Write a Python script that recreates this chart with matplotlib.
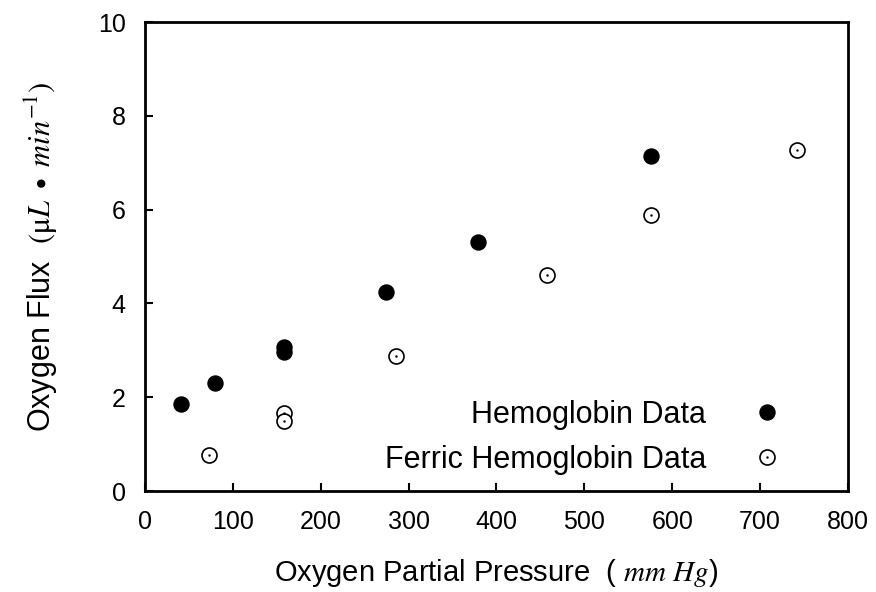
import numpy as np
import matplotlib
matplotlib.use("Agg")
import matplotlib.pyplot as plt
from matplotlib.lines import Line2D

# data
hb_x = [41, 80, 158, 158, 274, 379, 576]
hb_y = [1.85, 2.30, 3.08, 2.97, 4.25, 5.32, 7.15]
fe_x = [73, 158, 158, 286, 457, 576, 742]
fe_y = [0.77, 1.66, 1.49, 2.88, 4.60, 5.88, 7.28]

x_ticks = [0, 100, 200, 300, 400, 500, 600, 700, 800]
y_ticks = [0, 2, 4, 6, 8, 10]

plt.rcParams["font.family"] = ["Liberation Sans", "DejaVu Sans"]
plt.rcParams["mathtext.fontset"] = "stix"

fig = plt.figure(figsize=(8.76, 5.92), dpi=100)
ax = fig.add_axes([0.1655, 0.1706, 0.8025, 0.7922])

ms = 10.8
ax.plot(hb_x, hb_y, "o", ms=ms, color="black", mec="black", zorder=3)
ax.plot(fe_x, fe_y, "o", ms=ms, mfc="white", mec="black", mew=1.2, zorder=3)
ax.plot(fe_x, fe_y, ".", ms=1.5, color="black", zorder=4)

ax.set_xlim(0, 800)
ax.set_ylim(0, 10)
ax.set_xticks(x_ticks)
ax.set_yticks(y_ticks)
ax.tick_params(direction="in", length=6, width=1.5, labelsize=18, pad=14)
for s in ax.spines.values():
    s.set_linewidth(2)

ax.set_xlabel(r"Oxygen Partial Pressure  ( $mm\ Hg$)", fontsize=21, labelpad=16)
ax.set_ylabel(r"Oxygen Flux  $(\mathrm{\mu}L\ \bullet\ min^{-1})$", fontsize=22, labelpad=27)

# legend: marker to the right of the text
h1 = Line2D([], [], ls="none", marker="o", ms=ms, color="black")
h2a = Line2D([], [], ls="none", marker="o", ms=ms, mfc="white", mec="black", mew=1.2)
h2b = Line2D([], [], ls="none", marker=".", ms=1.5, color="black")
ax.legend([h1, (h2a, h2b)], ["Hemoglobin Data", "Ferric Hemoglobin Data"],
          loc="lower right", bbox_to_anchor=(0.907, 0.034), frameon=False,
          markerfirst=False, fontsize=22, handlelength=1.0, handletextpad=1.5,
          labelspacing=0.5, borderpad=0, borderaxespad=0)

fig.savefig("out.png", dpi=100)
